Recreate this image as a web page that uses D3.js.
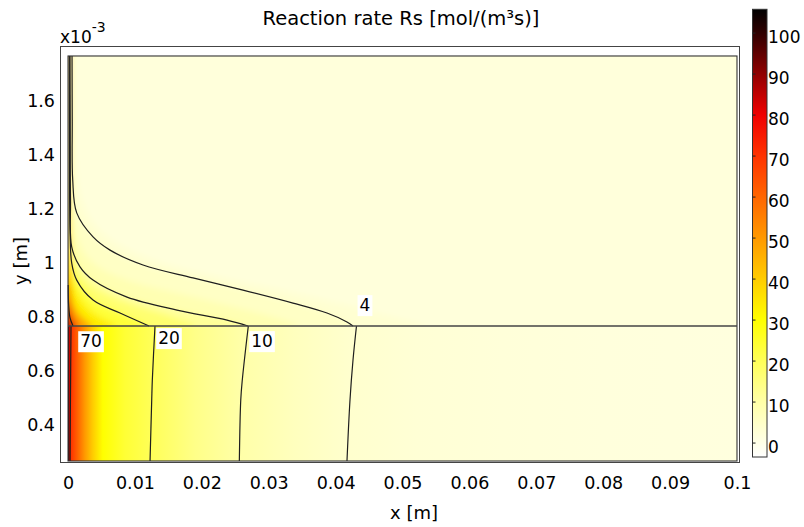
<!DOCTYPE html>
<html>
<head>
<meta charset="utf-8">
<script src="https://cdn.jsdelivr.net/npm/d3@7"></script>
<style>
  body { margin: 0; background: #fff; }
  text { font-family: "DejaVu Sans", Verdana, sans-serif; }
</style>
</head>
<body>
<svg id="chart" width="804" height="527"></svg>
<script>
// ---- Axis ticks (x in m, y in 1e-3 m) ----
const xTicks = [0, 0.01, 0.02, 0.03, 0.04, 0.05, 0.06, 0.07, 0.08, 0.09, 0.1];
const yTicks = [0.4, 0.6, 0.8, 1, 1.2, 1.4, 1.6];
const colorTicks = [0, 10, 20, 30, 40, 50, 60, 70, 80, 90, 100];

// ---- Colour map for Rs [mol/(m^3 s)] ----
const rateMin = -3.4, rateMax = 105.8;
const cmapValues = [-3.4, 0, 10, 20, 30, 40, 50, 60, 70, 80, 90, 100, 105.8];
const cmapColors = ["#ffffff", "#ffffe8", "#ffffa8", "#ffff58", "#ffff00", "#ffcc00",
                    "#ff9900", "#ff6600", "#ff3300", "#f00000", "#900000", "#300000", "#000000"];

// ---- Lower layer (y < 0.75e-3): rate profile across x ----
const lowerX = [0, 0.0002, 0.00045, 0.0015, 0.0025, 0.0037, 0.0052, 0.0085, 0.0125,
                0.019, 0.0258, 0.034, 0.0421, 0.052, 0.065, 0.08, 0.1];
const lowerRate = [105, 85, 70, 60, 50, 40, 30, 24, 20, 14, 10, 6.6, 4, 3, 2.3, 1.9, 1.6];

// ---- Upper layer: background rate and iso-rate curves used for shading ----
const upperBackground = 2;
const iso3Upper  = [[0.05411,0.750],[0.04963,0.776],[0.04215,0.824],[0.03318,0.876],[0.02272,0.931],
                    [0.01375,0.987],[0.00777,1.050],[0.00404,1.124],[0.00209,1.217],[0.00120,1.365],[0.00090,1.750]];
const iso7Upper  = [[0.03468,0.750],[0.03169,0.776],[0.02422,0.824],[0.01674,0.869],[0.00927,0.917],
                    [0.00478,0.965],[0.00254,1.017],[0.00120,1.098],[0.00060,1.217],[0.00045,1.750]];
const iso14Upper = [[0.01943,0.750],[0.01599,0.780],[0.01076,0.820],[0.00628,0.861],[0.00299,0.909],
                    [0.00135,0.965],[0.00060,1.039],[0.00034,1.217],[0.00027,1.750]];
const iso27Upper = [[0.00747,0.750],[0.00478,0.783],[0.00269,0.824],[0.00135,0.876],[0.00060,0.939],
                    [0.00030,1.050],[0.00018,1.750]];
const iso40Upper = [[0.00374,0.750],[0.00209,0.783],[0.00105,0.820],[0.00045,0.872],[0.00022,0.957],[0.00012,1.750]];
const iso55Upper = [[0.00179,0.750],[0.00090,0.780],[0.00037,0.817],[0.00015,0.876],[0.00007,1.750]];

// ---- Drawn contour lines (levels 4, 10, 20, 70) ----
const contour4Upper  = [[0.04260,0.750],[0.04170,0.765],[0.03871,0.798],[0.03363,0.835],[0.02616,0.883],
                        [0.01868,0.928],[0.01121,0.976],[0.00628,1.031],[0.00374,1.080],[0.00130,1.169],
                        [0.00070,1.291],[0.00063,1.513],[0.00060,1.750]];
const contour4Lower  = [[0.04312,0.750],[0.04260,0.624],[0.04215,0.476],[0.04170,0.250]];
const contour10Upper = [[0.02691,0.750],[0.02377,0.772],[0.01629,0.809],[0.00882,0.857],[0.00374,0.920],
                        [0.00179,0.969],[0.00055,1.043],[0.00037,1.217],[0.00033,1.513],[0.00030,1.750]];
const contour10Lower = [[0.02695,0.750],[0.02605,0.550],[0.02582,0.476],[0.02561,0.250]];
const contour20Upper = [[0.01211,0.750],[0.00777,0.798],[0.00374,0.846],[0.00130,0.920],[0.00055,0.983],
                        [0.00030,1.106],[0.00022,1.402],[0.00019,1.750]];
const contour20Lower = [[0.01300,0.750],[0.01260,0.550],[0.01251,0.476],[0.01226,0.250]];
const contour70Upper = [[0.00075,0.750],[0.00030,0.780],[0.00009,0.828],[0.00003,0.902]];
const contour70Lower = [[0.00045,0.750],[0.00037,0.513],[0.00030,0.250]];

const contourLevels = [4, 10, 20, 70];
const contourUpper = [contour4Upper, contour10Upper, contour20Upper, contour70Upper];
const contourLower = [contour4Lower, contour10Lower, contour20Lower, contour70Lower];

// Label anchors for the contour values (data coordinates)
const labelLevels = [70, 20, 10, 4];
const labelX = [0.00344, 0.01509, 0.02900, 0.04439];
const labelY = [0.694, 0.7056, 0.6944, 0.8278];

// ---- Geometry of the two domains ----
const geomX = [0, 0.1];
const geomY = [0.25, 1.75];
const interfaceY = 0.75;

// ================= drawing =================
const FONT = "DejaVu Sans, Verdana, sans-serif";
const svg = d3.select("#chart");
const defs = svg.append("defs");

const x = d3.scaleLinear().domain([-0.0012, 0.10045]).range([60, 740]);
const y = d3.scaleLinear().domain([0.2426, 1.787]).range([463, 46]);
const color = d3.scaleLinear().domain(cmapValues).range(cmapColors)
  .interpolate(d3.interpolateRgb).clamp(true);

// outer axes frame
svg.append("rect")
  .attr("x", 60.5).attr("y", 46.5).attr("width", 679).attr("height", 416)
  .attr("fill", "#fff").attr("stroke", "#444").attr("stroke-width", 1);

// ---- upper layer shading ----
defs.append("clipPath").attr("id", "upperClip")
  .append("rect")
  .attr("x", x(geomX[0])).attr("y", y(geomY[1]))
  .attr("width", x(geomX[1]) - x(geomX[0]))
  .attr("height", y(interfaceY) - y(geomY[1]));

defs.append("filter").attr("id", "soft")
  .attr("filterUnits", "userSpaceOnUse")
  .attr("x", 0).attr("y", 0).attr("width", 804).attr("height", 527)
  .append("feGaussianBlur").attr("stdDeviation", 3);

const shadingSets = [
  { level: 3, pts: iso3Upper }, { level: 4, pts: contour4Upper },
  { level: 7, pts: iso7Upper }, { level: 10, pts: contour10Upper },
  { level: 14, pts: iso14Upper }, { level: 20, pts: contour20Upper },
  { level: 27, pts: iso27Upper }, { level: 40, pts: iso40Upper },
  { level: 55, pts: iso55Upper }, { level: 70, pts: contour70Upper }
];

// mirror each iso-curve across the wall (x = 0) and the interface so the blur stays even at the edges
function mirroredRegion(pts) {
  const u = pts.slice();
  const last = u[u.length - 1];
  if (last[1] >= geomY[1]) u.push([last[0], geomY[1] + 0.2]);
  const mx = u.map(p => [-p[0], p[1]]).reverse();
  const mxy = u.map(p => [-p[0], 2 * interfaceY - p[1]]);
  const my = u.map(p => [p[0], 2 * interfaceY - p[1]]).reverse();
  return u.concat(mx, mxy, my);
}

const regionLine = d3.line().x(d => x(d[0])).y(d => y(d[1])).curve(d3.curveCatmullRomClosed);

const upperG = svg.append("g").attr("clip-path", "url(#upperClip)")
  .append("g").attr("filter", "url(#soft)");
upperG.append("rect")
  .attr("x", 0).attr("y", 0).attr("width", 804).attr("height", 527)
  .attr("fill", color(upperBackground));
upperG.selectAll("path.band")
  .data(shadingSets)
  .join("path")
  .attr("class", "band")
  .attr("d", d => regionLine(mirroredRegion(d.pts)))
  .attr("fill", (d, i) => {
    const next = i < shadingSets.length - 1 ? shadingSets[i + 1].level : 100;
    return color((d.level + next) / 2);
  });

// ---- lower layer shading: horizontal profile ----
const lowerGrad = defs.append("linearGradient").attr("id", "lowerGrad")
  .attr("gradientUnits", "userSpaceOnUse")
  .attr("x1", x(geomX[0])).attr("x2", x(geomX[1])).attr("y1", 0).attr("y2", 0);
lowerGrad.selectAll("stop")
  .data(lowerX)
  .join("stop")
  .attr("offset", d => (d - geomX[0]) / (geomX[1] - geomX[0]))
  .attr("stop-color", (d, i) => color(lowerRate[i]));

svg.append("rect")
  .attr("x", x(geomX[0])).attr("y", y(interfaceY))
  .attr("width", x(geomX[1]) - x(geomX[0]))
  .attr("height", y(geomY[0]) - y(interfaceY))
  .attr("fill", "url(#lowerGrad)");

// ---- contour lines ----
const curveLine = d3.line().x(d => x(d[0])).y(d => y(d[1])).curve(d3.curveCatmullRom);
const contourG = svg.append("g")
  .attr("fill", "none").attr("stroke", "#1e1e1e").attr("stroke-width", 1.2);
contourLevels.forEach((lvl, i) => {
  contourG.append("path").attr("d", curveLine(contourUpper[i]));
  contourG.append("path").attr("d", curveLine(contourLower[i]));
});

// ---- geometry edges ----
svg.append("rect")
  .attr("x", x(geomX[0])).attr("y", y(geomY[1]))
  .attr("width", x(geomX[1]) - x(geomX[0]))
  .attr("height", y(geomY[0]) - y(geomY[1]))
  .attr("fill", "none").attr("stroke", "#333").attr("stroke-width", 1.1);
svg.append("line")
  .attr("x1", x(geomX[0])).attr("x2", x(geomX[1]))
  .attr("y1", y(interfaceY)).attr("y2", y(interfaceY))
  .attr("stroke", "#444").attr("stroke-width", 1.3);

// ---- contour value labels ----
const labG = svg.append("g");
labelLevels.forEach((lvl, i) => {
  const g = labG.append("g").attr("transform", `translate(${x(labelX[i])},${y(labelY[i])})`);
  const t = g.append("text").attr("text-anchor", "middle").attr("dy", "0.36em")
    .attr("font-size", 17).attr("fill", "#000").text(String(lvl));
  const bb = t.node().getBBox();
  g.insert("rect", "text")
    .attr("x", bb.x - 2).attr("y", bb.y).attr("width", bb.width + 4).attr("height", bb.height + 1)
    .attr("fill", "#fff");
});

// ---- axes ----
const gx = svg.append("g").attr("transform", "translate(0,463)")
  .call(d3.axisBottom(x).tickValues(xTicks).tickSize(0).tickPadding(14).tickFormat(d => String(d)));
gx.select(".domain").remove();
gx.attr("font-size", 17.5).attr("font-family", FONT).attr("color", "#000");

const gy = svg.append("g").attr("transform", "translate(60,0)")
  .call(d3.axisLeft(y).tickValues(yTicks).tickSize(0).tickPadding(5).tickFormat(d => String(d)));
gy.select(".domain").remove();
gy.attr("font-size", 17.5).attr("font-family", FONT).attr("color", "#000");
gy.selectAll("text").attr("y", 4);

// axis scale factor
const sci = svg.append("text").attr("x", 60).attr("y", 43).attr("font-size", 17).attr("fill", "#000");
sci.append("tspan").text("x10");
sci.append("tspan").attr("font-size", 14).attr("dy", -11).text("-3");

// axis titles
svg.append("text").attr("x", 414).attr("y", 519).attr("text-anchor", "middle")
  .attr("font-size", 18).attr("fill", "#000").text("x [m]");
svg.append("text").attr("transform", "translate(27,261) rotate(-90)").attr("text-anchor", "middle")
  .attr("font-size", 18).attr("fill", "#000").text("y [m]");

// chart title
svg.append("text").attr("x", 401).attr("y", 25).attr("text-anchor", "middle")
  .attr("font-size", 19.5).attr("fill", "#000").text("Reaction rate Rs [mol/(m³s)]");

// ---- colour bar ----
const cbX0 = 752.5, cbW = 14.5;
const cbY = d3.scaleLinear().domain([rateMin, rateMax]).range([457, 9.3]);
const cbGrad = defs.append("linearGradient").attr("id", "cbGrad")
  .attr("gradientUnits", "userSpaceOnUse")
  .attr("x1", 0).attr("x2", 0).attr("y1", cbY(rateMin)).attr("y2", cbY(rateMax));
cbGrad.selectAll("stop")
  .data(cmapValues)
  .join("stop")
  .attr("offset", d => (d - rateMin) / (rateMax - rateMin))
  .attr("stop-color", d => color(d));
svg.append("rect")
  .attr("x", cbX0).attr("y", cbY(rateMax)).attr("width", cbW)
  .attr("height", cbY(rateMin) - cbY(rateMax))
  .attr("fill", "url(#cbGrad)").attr("stroke", "#333").attr("stroke-width", 1);
svg.append("g").selectAll("line")
  .data(colorTicks)
  .join("line")
  .attr("x1", cbX0).attr("x2", cbX0 + 3)
  .attr("y1", d => cbY(d)).attr("y2", d => cbY(d))
  .attr("stroke", "#222").attr("stroke-width", 1);
const gc = svg.append("g").attr("transform", `translate(${cbX0 + cbW},0)`)
  .call(d3.axisRight(cbY).tickValues(colorTicks).tickSize(0).tickPadding(1).tickFormat(d => String(d)));
gc.select(".domain").remove();
gc.attr("font-size", 17).attr("font-family", FONT).attr("color", "#000");
gc.selectAll("text").attr("y", 4);
</script>
</body>
</html>
